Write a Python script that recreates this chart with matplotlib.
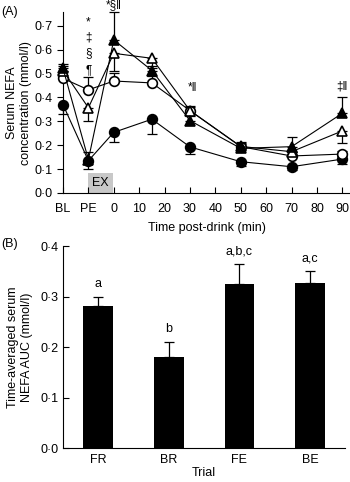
import matplotlib
matplotlib.use("Agg")
import matplotlib.pyplot as plt
from matplotlib.patches import Rectangle
from matplotlib.ticker import FuncFormatter

plt.rcParams['font.family'] = ['Liberation Sans', 'DejaVu Sans']
plt.rcParams['font.size'] = 9

# ---- panel A data ----
times = [-20, -10, 0, 15, 30, 50, 70, 90]
time_ticks = [-20, -10, 0, 10, 20, 30, 40, 50, 60, 70, 80, 90]
time_labels = ['BL', 'PE', '0', '10', '20', '30', '40', '50', '60', '70', '80', '90']

fr_mean = [0.37, 0.135, 0.254, 0.309, 0.193, 0.131, 0.110, 0.142]
fr_lo = [0.04, 0.035, 0.04, 0.06, 0.03, 0.02, 0.012, 0.02]
fr_hi = [0, 0, 0, 0, 0, 0, 0, 0.015]

br_mean = [0.48, 0.432, 0.469, 0.461, 0.345, 0.194, 0.155, 0.163]
br_lo = [0, 0, 0, 0, 0, 0, 0, 0]
br_hi = [0.03, 0.055, 0.035, 0.03, 0.02, 0.015, 0.015, 0.012]

fe_mean = [0.513, 0.357, 0.585, 0.564, 0.345, 0.195, 0.173, 0.26]
fe_lo = [0, 0.055, 0.075, 0.04, 0, 0, 0, 0.05]
fe_hi = [0.02, 0, 0, 0, 0.015, 0.02, 0, 0]

be_mean = [0.522, 0.14, 0.641, 0.513, 0.303, 0.187, 0.194, 0.334]
be_lo = [0, 0, 0, 0, 0, 0, 0, 0]
be_hi = [0.02, 0.03, 0.115, 0.02, 0.02, 0.02, 0.042, 0.066]

# ---- panel B data ----
trials = ['FR', 'BR', 'FE', 'BE']
auc_mean = [0.281, 0.181, 0.324, 0.326]
auc_err = [0.018, 0.029, 0.04, 0.025]
auc_letters = ['a', 'b', 'a,b,c', 'a,c']

dot = FuncFormatter(lambda v, p: f"{v:.1f}".replace('.', '\u00b7'))

fig = plt.figure(figsize=(3.5, 4.82), dpi=100)
axA = fig.add_axes([0.18, 0.5996, 0.82, 0.375])
axB = fig.add_axes([0.18, 0.0705, 0.806, 0.419])

series = [
    (fr_mean, fr_lo, fr_hi, 'o', 'black'),
    (br_mean, br_lo, br_hi, 'o', 'white'),
    (fe_mean, fe_lo, fe_hi, '^', 'white'),
    (be_mean, be_lo, be_hi, '^', 'black'),
]
for mean, lo, hi, mk, fc in series:
    axA.errorbar(times, mean, yerr=[lo, hi], fmt='none', ecolor='black',
                 elinewidth=0.9, capsize=3.5, capthick=0.9, clip_on=False, zorder=2)
    axA.plot(times, mean, '-', color='black', lw=0.8, marker=mk, ms=7,
             mfc=fc, mec='black', mew=1.2, clip_on=False, zorder=3)

axA.add_patch(Rectangle((-10, 0), 9.5, 0.085, facecolor='#c8c8c8', edgecolor='none', zorder=1))
axA.text(-5.25, 0.042, 'EX', ha='center', va='center', fontsize=9)

for s, y in zip(['*', '\u2021', '\u00a7', '\u00b6'], [0.715, 0.652, 0.585, 0.515]):
    axA.text(-10, y, s, ha='center', va='center', fontsize=8.5)
axA.text(0, 0.785, '*\u00a7\u2016', ha='center', va='center', fontsize=8.5, clip_on=False)
axA.text(31, 0.44, '*\u2016', ha='center', va='center', fontsize=8.5)
axA.text(90, 0.445, '\u2021\u2016', ha='center', va='center', fontsize=8.5)

axA.set_xlim(-20, 93)
axA.set_ylim(0, 0.757)
axA.set_xticks(time_ticks)
axA.set_xticklabels(time_labels)
axA.set_yticks([0, 0.1, 0.2, 0.3, 0.4, 0.5, 0.6, 0.7])
axA.yaxis.set_major_formatter(dot)
axA.tick_params(axis='x', direction='in', length=4, pad=7)
axA.tick_params(axis='y', direction='out', length=4)
axA.spines['top'].set_visible(False)
axA.spines['right'].set_visible(False)
axA.set_xlabel('Time post-drink (min)', labelpad=5)
axA.set_ylabel('Serum NEFA\nconcentration (mmol/l)', labelpad=2)

# ---- panel B ----
xpos = range(len(trials))
axB.bar(xpos, auc_mean, width=0.42, color='black', zorder=2)
axB.errorbar(xpos, auc_mean, yerr=[[0] * 4, auc_err], fmt='none', ecolor='black',
             elinewidth=0.9, capsize=3.5, capthick=0.9, zorder=3)
for i, (m, e, l) in enumerate(zip(auc_mean, auc_err, auc_letters)):
    axB.text(i, m + e + 0.013, l, ha='center', va='bottom', fontsize=9)

axB.set_xlim(-0.5, 3.5)
axB.set_ylim(0, 0.4)
axB.set_xticks(list(xpos))
axB.set_xticklabels(trials)
axB.set_yticks([0, 0.1, 0.2, 0.3, 0.4])
axB.yaxis.set_major_formatter(dot)
axB.tick_params(axis='x', length=0, pad=4)
axB.tick_params(axis='y', direction='in', length=4)
axB.spines['top'].set_visible(False)
axB.spines['right'].set_visible(False)
axB.set_xlabel('Trial', labelpad=1)
axB.set_ylabel('Time-averaged serum\nNEFA AUC (mmol/l)', labelpad=5)

fig.text(0.005, 0.975, '(A)', fontsize=9, va='center')
fig.text(0.005, 0.493, '(B)', fontsize=9, va='center')

fig.savefig('out.png', dpi=100)
